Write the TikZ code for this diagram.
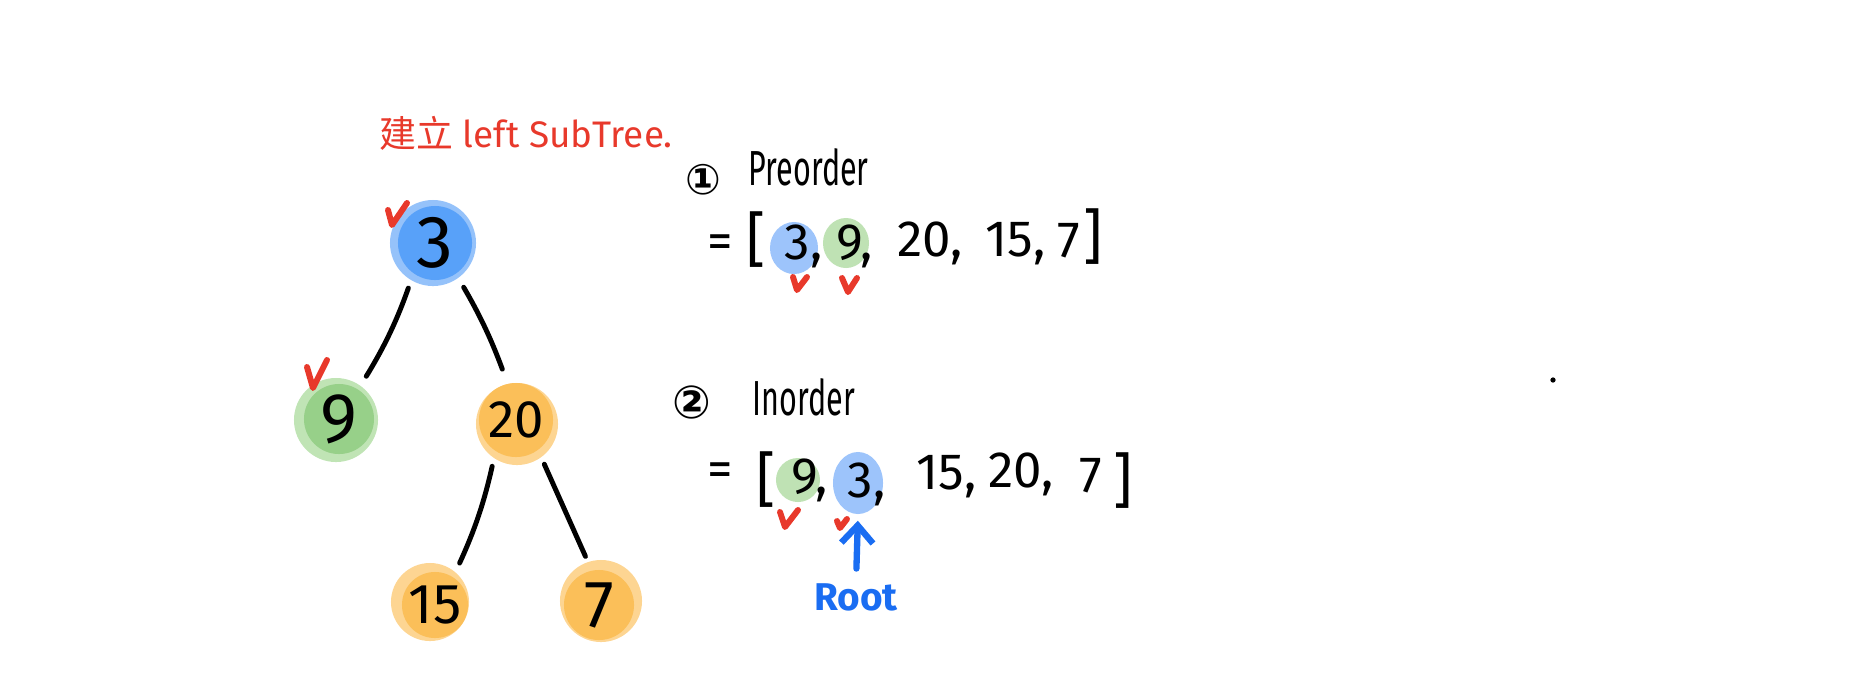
\documentclass[tikz,border=0pt]{standalone}
\usepackage{fontspec}
\usepackage{graphicx}
\setmainfont{Fira Sans}
\newfontfamily\cjk{Noto Sans CJK SC}
\newfontfamily\djv{DejaVu Sans}
\usetikzlibrary{arrows.meta,shapes.geometric}
\definecolor{bdark}{HTML}{58A1F9}
\definecolor{blight}{HTML}{95C2FA}
\definecolor{blist}{HTML}{9DC4FB}
\definecolor{gdark}{HTML}{97D089}
\definecolor{glight}{HTML}{C0E4B5}
\definecolor{glist}{HTML}{BFE2B4}
\definecolor{odark}{HTML}{FBBF59}
\definecolor{olight}{HTML}{FDD592}
\definecolor{redmark}{HTML}{E8392B}
\definecolor{rootblue}{HTML}{1A6DF2}
\tikzset{
  halo/.style={circle,inner sep=0pt,minimum size=#1},
  core/.style={circle,inner sep=0pt,minimum size=#1,text=black},
  edge/.style={line width=1.4pt,line cap=round,shorten <=0.15cm,shorten >=0.15cm},
  tick/.style={draw=redmark,line width=1.7pt,line cap=round,line join=round},
  lst/.style={anchor=base west,inner sep=0pt,font=\fontsize{14.5}{16}\selectfont},
  brk/.style={inner sep=0pt,font=\fontsize{17}{20}\selectfont},
  blob/.style={ellipse,inner sep=0pt},
  head/.style={anchor=west,inner sep=0pt,font=\fontsize{14}{16}\selectfont},
}
\begin{document}
\begin{tikzpicture}[x=0.01cm,y=-0.01cm]
\useasboundingbox (0,0) rectangle (1872,696);

% title
\node[text=redmark,font=\fontsize{10.5}{13}\selectfont,inner sep=0pt] (ttl) at (526,133) {{\cjk 建立} left SubTree.};

% tree
\node[halo=0.86cm,fill=blight] (rootH) at (433,243) {};
\node[core=0.74cm,fill=bdark,font=\fontsize{21}{24}\selectfont] (root) at (435,243) {3};
\node[halo=0.84cm,fill=glight] (n9H) at (336,420) {};
\node[core=0.70cm,fill=gdark,font=\fontsize{20}{24}\selectfont] (n9) at (339,419) {9};
\node[halo=0.82cm,fill=olight] (n20H) at (517,424) {};
\node[core=0.74cm,fill=odark,font=\fontsize{15}{18}\selectfont] (n20) at (516,420) {20};
\node[halo=0.78cm,fill=olight] (n15H) at (430,602) {};
\node[core=0.66cm,fill=odark,font=\fontsize{16}{19}\selectfont] (n15) at (435,605) {15};
\node[halo=0.82cm,fill=olight] (n7H) at (601,601) {};
\node[core=0.70cm,fill=odark,font=\fontsize{19}{22}\selectfont] (n7) at (599,605) {7};

\draw[edge] (root.235) to[bend left=6] (n9.57);
\draw[edge] (root.304) to[bend left=5] (n20.103);
\draw[edge] (n20.237) to[bend left=6] (n15.57);
\draw[edge] (n20.306) -- (n7.102);

% ticks on tree
\draw[tick] (388,210) -- (392,225) -- (407,203);
\draw[tick] (307,367) -- (313,388) -- (327,360);

% Preorder
\node[font=\fontsize{12}{14}\selectfont\bfseries\djv,inner sep=0pt] (c1) at (703,180) {①};
\node[head] (pre) at (748,167) {\scalebox{0.62}[1]{Preorder}};
\node[blob,fill=blist,minimum width=0.48cm,minimum height=0.52cm] (pb3) at (794,248) {};
\node[blob,fill=glist,minimum width=0.46cm,minimum height=0.50cm] (pb9) at (846,243) {};
\node[lst,anchor=center] (peq) at (720,247) {=};
\node[brk] (pl) at (756,240) {[};
\node[lst] (p3) at (784,259) {3,};
\node[lst] (p9) at (836,259) {9,};
\node[lst] (p20) at (897,256) {20,};
\node[lst] (p15) at (985,256) {15,};
\node[lst] (p7) at (1057,257) {7};
\node[brk] (pr) at (1093,237) {]};
\draw[tick] (793,277) -- (797,290) -- (807,277);
\draw[tick] (842,278) -- (848,292) -- (857,278);

% Inorder
\node[font=\fontsize{13}{15}\selectfont\bfseries\djv,inner sep=0pt] (c2) at (692,402) {②};
\node[head] (ino) at (752,397) {\scalebox{0.62}[1]{Inorder}};
\node[blob,fill=glist,minimum width=0.44cm,minimum height=0.44cm] (ib9) at (798,480) {};
\node[blob,fill=blist,minimum width=0.50cm,minimum height=0.62cm] (ib3) at (858,483) {};
\node[lst,anchor=center] (ieq) at (720,475) {=};
\node[brk] (il) at (766,480) {[};
\node[lst] (i9) at (791,493) {9,};
\node[lst] (i3) at (847,497) {3,};
\node[lst] (i15) at (916,489) {15,};
\node[lst] (i20) at (988,487) {20,};
\node[lst] (i7) at (1079,492) {7};
\node[brk] (ir) at (1123,481) {]};
\draw[tick] (780,512) -- (785,527) -- (798,510);
\draw[tick] (837,521) -- (840,528) -- (847,519);

\node[text=rootblue,font=\fontsize{11}{13}\selectfont\bfseries,inner sep=0pt] (rootl) at (856,597) {Root};
\draw[rootblue,line width=1.8pt,line cap=round,-{Straight Barb[length=5pt,width=9pt]},shorten <=0.14cm,shorten >=0.06cm] (rootl.north) -- (ib3.south);

% stray dot
\node[circle,fill=black,inner sep=0pt,minimum size=1.5pt] (dot) at (1553,380) {};
\end{tikzpicture}
\end{document}
